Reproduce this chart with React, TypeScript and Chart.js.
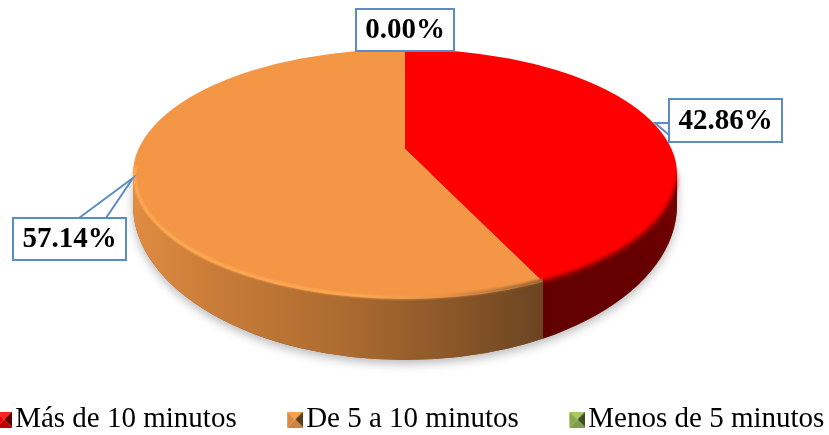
import React, { useEffect, useRef } from "react";
import { Chart, registerables } from "chart.js";

Chart.register(...registerables);

// Survey answers and their shares, in percent.
const categories = ["Más de 10 minutos", "De 5 a 10 minutos", "Menos de 5 minutos"];
const shares = [42.86, 57.14, 0];
const sliceColors = ["#ff0000", "#f39645", "#9bbb59"];

// Pie geometry on the page: the tilted disc is an ellipse with a perspective-shifted hub.
const DISC = { cx: 405, cy: 174, rx: 272, ry: 125 };
const BASE = { cx: 405, cy: 205, rx: 272, ry: 155 };
const HUB = { x: 405, y: 149 };
const TILT = 0.463;
const SPREAD = 2;

// Canvas overhangs the page so the legend row can run right to the page edges.
const CANVAS = { left: -68, width: 960, height: 444 };

type Callout = { box: [number, number, number, number]; tail?: [number, number][] };
const callouts: Callout[] = [
  { box: [669, 99, 782, 142], tail: [[669, 123], [655, 123], [669, 135]] },
  { box: [13, 218, 126, 260], tail: [[106, 218], [133, 178], [79, 218]] },
  { box: [356, 9, 454, 51] },
];

// Bevelled legend swatch: four shaded triangles meeting in the middle,
// sitting at the right of a wider image so it ends close to the label.
function swatch(top: string, right: string, bottom: string, left: string) {
  const size = 16;
  const c = document.createElement("canvas");
  c.width = 24;
  c.height = size;
  const g = c.getContext("2d")!;
  g.translate(8, 0);
  const tri = (ax: number, ay: number, bx: number, by: number, col: string) => {
    g.fillStyle = col;
    g.beginPath();
    g.moveTo(ax, ay);
    g.lineTo(bx, by);
    g.lineTo(size / 2, size / 2);
    g.closePath();
    g.fill();
  };
  tri(0, 0, size, 0, top);
  tri(size, 0, size, size, right);
  tri(size, size, 0, size, bottom);
  tri(0, size, 0, 0, left);
  return c;
}

const swatches = () => [
  swatch("#ff2020", "#600000", "#c00000", "#e80000"),
  swatch("#f7a050", "#5a3a18", "#d08040", "#e08a40"),
  swatch("#a8c860", "#3c4f20", "#7f9c48", "#8aaa4c"),
];

// Where a slice edge leaving the hub at the given canvas angle meets the disc rim.
function rimX(angle: number) {
  const dx = Math.cos(angle);
  const dy = Math.sin(angle) * TILT;
  const px = (HUB.x - DISC.cx) / DISC.rx;
  const py = (HUB.y - DISC.cy) / DISC.ry;
  const qx = dx / DISC.rx;
  const qy = dy / DISC.ry;
  const a = qx * qx + qy * qy;
  const b = 2 * (px * qx + py * qy);
  const c = px * px + py * py - 1;
  const t = (-b + Math.sqrt(b * b - 4 * a * c)) / (2 * a);
  return HUB.x + t * dx;
}

const tiltedPie = {
  id: "tiltedPie",
  beforeDatasetsDraw(chart: any) {
    const ctx = chart.ctx;
    const arcs = chart.getDatasetMeta(0).data;
    const off = -CANVAS.left;
    const split = rimX(arcs[0].endAngle) + off;

    const wall = () => {
      ctx.beginPath();
      ctx.moveTo(DISC.cx + DISC.rx + off, DISC.cy);
      ctx.lineTo(BASE.cx + BASE.rx + off, BASE.cy);
      ctx.ellipse(BASE.cx + off, BASE.cy, BASE.rx, BASE.ry, 0, 0, Math.PI);
      ctx.lineTo(DISC.cx - DISC.rx + off, DISC.cy);
      ctx.closePath();
    };

    // Drop shadow under the side wall
    ctx.save();
    ctx.shadowColor = "rgba(60,60,70,0.35)";
    ctx.shadowBlur = 10;
    ctx.shadowOffsetY = 4;
    ctx.fillStyle = "#8a5a28";
    wall();
    ctx.fill();
    ctx.restore();

    // Side wall of the first slice
    ctx.save();
    ctx.beginPath();
    ctx.rect(split, 0, 400, CANVAS.height);
    ctx.clip();
    const redWall = ctx.createLinearGradient(split, 0, 678 + off, 0);
    redWall.addColorStop(0, "#620000");
    redWall.addColorStop(0.75, "#660000");
    redWall.addColorStop(1, "#700000");
    ctx.fillStyle = redWall;
    wall();
    ctx.fill();
    ctx.restore();

    // Side wall of the second slice
    ctx.save();
    ctx.beginPath();
    ctx.rect(0, 0, split, CANVAS.height);
    ctx.clip();
    const orangeWall = ctx.createLinearGradient(133 + off, 0, split, 0);
    orangeWall.addColorStop(0, "#e08c42");
    orangeWall.addColorStop(0.2, "#c97c38");
    orangeWall.addColorStop(0.5, "#ae6c31");
    orangeWall.addColorStop(0.8, "#885528");
    orangeWall.addColorStop(1, "#6a4522");
    ctx.fillStyle = orangeWall;
    wall();
    ctx.fill();
    ctx.restore();

    // Slices are drawn by the chart itself, squashed onto the disc
    const { x, y } = arcs[0];
    ctx.save();
    ctx.beginPath();
    ctx.ellipse(DISC.cx + off, DISC.cy, DISC.rx, DISC.ry, 0, 0, Math.PI * 2);
    ctx.clip();
    ctx.translate(HUB.x + off, HUB.y);
    ctx.scale(SPREAD, SPREAD * TILT);
    ctx.translate(-x, -y);
  },
  afterDatasetsDraw(chart: any) {
    const ctx = chart.ctx;
    ctx.restore();
    const arcs = chart.getDatasetMeta(0).data;
    const off = -CANVAS.left;
    const split = rimX(arcs[0].endAngle) + off;

    const rim = (from: number, to: number, style: any, width: number, blur: number, inset: number) => {
      ctx.save();
      ctx.filter = `blur(${blur}px)`;
      ctx.strokeStyle = style;
      ctx.lineWidth = width;
      ctx.beginPath();
      ctx.ellipse(DISC.cx + off, DISC.cy, DISC.rx - inset, DISC.ry - inset, 0, from, to);
      ctx.stroke();
      ctx.restore();
    };

    // Rounded edge where the top face turns into the wall
    ctx.save();
    ctx.beginPath();
    ctx.rect(0, 0, split, CANVAS.height);
    ctx.clip();
    const glow = ctx.createLinearGradient(133 + off, 0, split, 0);
    glow.addColorStop(0, "#ffab55");
    glow.addColorStop(0.55, "#ffab55");
    glow.addColorStop(0.75, "#e8924a");
    glow.addColorStop(1, "#8a5c30");
    rim(Math.PI * 0.2, Math.PI * 1.02, glow, 3, 1, 1.5);
    ctx.restore();

    ctx.save();
    ctx.beginPath();
    ctx.rect(split, 0, 400, CANVAS.height);
    ctx.clip();
    const edge = ctx.createLinearGradient(0, DISC.cy - 8, 0, DISC.cy + 30);
    edge.addColorStop(0, "rgba(150,0,0,0)");
    edge.addColorStop(1, "rgba(150,0,0,1)");
    rim(-0.1, Math.PI * 0.6, edge, 4, 1.5, 0);
    ctx.restore();
  },
  afterDraw(chart: any) {
    const ctx = chart.ctx;
    const off = -CANVAS.left;
    ctx.save();
    ctx.translate(off, 0);
    callouts.forEach((c, i) => {
      const [l, t, r, b] = c.box;
      ctx.lineWidth = 2;
      ctx.strokeStyle = "#5b8cc6";
      ctx.fillStyle = "#ffffff";
      ctx.beginPath();
      ctx.rect(l, t, r - l, b - t);
      ctx.fill();
      if (c.tail) {
        ctx.beginPath();
        ctx.moveTo(c.tail[0][0], c.tail[0][1]);
        ctx.lineTo(c.tail[1][0], c.tail[1][1]);
        ctx.lineTo(c.tail[2][0], c.tail[2][1]);
        ctx.fill();
        ctx.stroke();
      }
      ctx.beginPath();
      ctx.rect(l, t, r - l, b - t);
      ctx.stroke();
      ctx.fillStyle = "#000000";
      ctx.font = "bold 29px 'Liberation Serif'";
      ctx.textAlign = "center";
      ctx.textBaseline = "middle";
      ctx.fillText(`${shares[i].toFixed(2)}%`, (l + r) / 2, (t + b) / 2 + 1);
    });
    ctx.restore();
  },
};

export default function App() {
  const ref = useRef<HTMLCanvasElement>(null);
  useEffect(() => {
    document.body.style.margin = "0";
    const icons = swatches();
    const chart = new Chart(ref.current!, {
      type: "pie",
      data: {
        labels: categories,
        datasets: [{ data: shares, backgroundColor: sliceColors, borderWidth: 0 }],
      },
      options: {
        responsive: false,
        animation: false,
        plugins: {
          tooltip: { enabled: false },
          legend: {
            position: "bottom",
            labels: {
              usePointStyle: true,
              pointStyleWidth: 1,
              padding: 54,
              color: "#000000",
              font: { family: "'Liberation Serif'", size: 29 },
              generateLabels: () =>
                categories.map((text, i) => ({
                  text,
                  fontColor: "#000000",
                  pointStyle: icons[i],
                  fillStyle: sliceColors[i],
                  strokeStyle: sliceColors[i],
                  lineWidth: 0,
                  hidden: false,
                  index: i,
                })),
            },
          },
        },
      },
      plugins: [tiltedPie],
    } as any);
    return () => chart.destroy();
  }, []);
  return (
    <div style={{ position: "fixed", left: 0, top: 0, width: 829, height: 435, overflow: "hidden", background: "#fff" }}>
      <canvas
        ref={ref}
        width={CANVAS.width}
        height={CANVAS.height}
        style={{ position: "absolute", left: CANVAS.left, top: 0, width: CANVAS.width, height: CANVAS.height }}
      />
    </div>
  );
}
